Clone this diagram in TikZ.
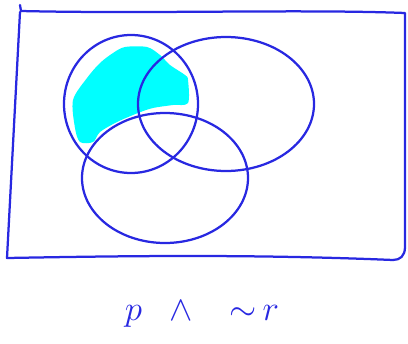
\documentclass[tikz,border=0pt]{standalone}
\usepackage{amssymb}
\usepackage{amsmath}
\definecolor{pen}{RGB}{40,40,225}
\definecolor{aqua}{RGB}{0,255,255}
\begin{document}
\begin{tikzpicture}[x=0.025cm,y=-0.025cm,
  ln/.style={draw=pen,line width=1.6pt,line cap=round,line join=round},
  sh/.style={fill=aqua,draw=none}]
\useasboundingbox (0,0) rectangle (408,343);
% shaded part: p and not r
\fill[sh] plot[smooth cycle,tension=0.5] coordinates {(125,47) (147,47) (160,55) (170,65) (185,75) (188,80) (188,103) (173,105) (153,108) (138,113) (117,122) (100,132) (93,142) (80,142) (75,128) (73,100) (87,78) (100,63) (113,53)};
% universe
\draw[ln] (20,5) -- (21,11) .. controls (150,14) and (300,9) .. (405,13)
  -- (405,247) .. controls (405,256) and (400,260) .. (393,260)
  .. controls (250,254) and (120,256) .. (7,258) -- (20,12);
% the three sets
\draw[ln] (131,104) ellipse [x radius=67,y radius=69];
\draw[ln] (226,104) ellipse [x radius=88,y radius=67];
\draw[ln] (165,178) ellipse [x radius=83,y radius=65];
\node[text=pen,font=\Huge,inner sep=0pt] (lbl) at (202,314) {$p\;\;\land\;\;\;{\sim}\,r$};
\end{tikzpicture}
\end{document}
